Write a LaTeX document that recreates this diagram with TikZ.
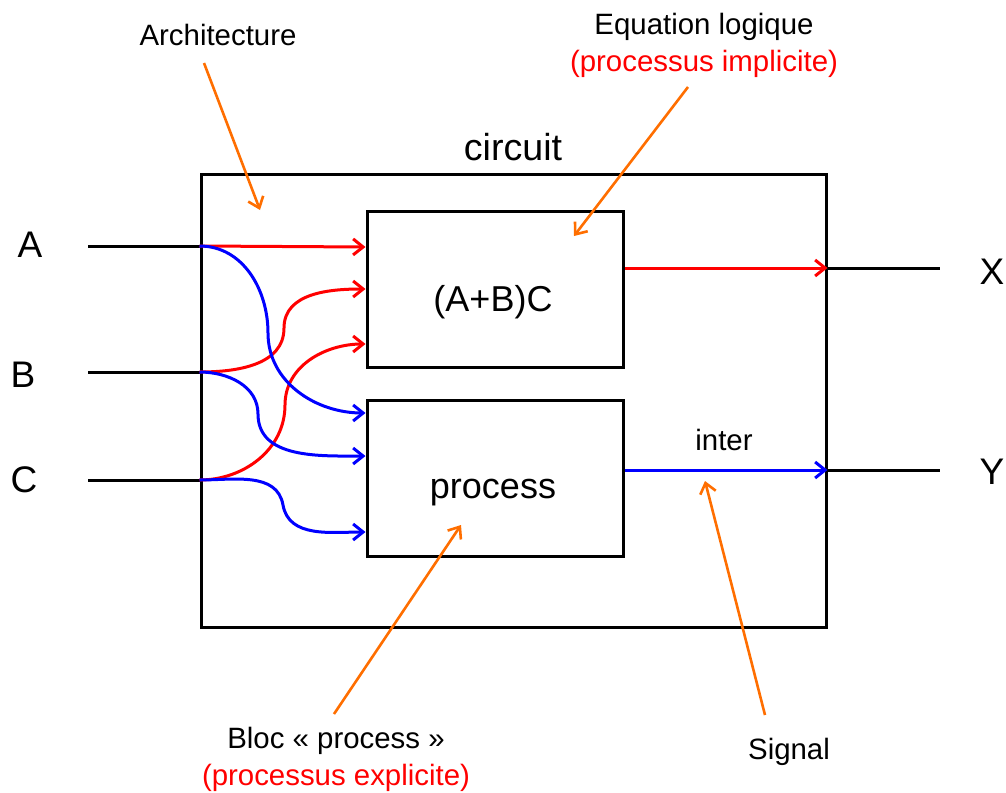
\documentclass[tikz,border=0pt]{standalone}
\usepackage{fontspec}
\setmainfont{Liberation Sans}
\usetikzlibrary{arrows.meta}
\definecolor{annot}{RGB}{255,110,0}
\begin{document}
\begin{tikzpicture}[x=0.5pt, y=-0.5pt,
    bloc/.style={draw, line width=1.5pt, inner sep=0pt,
      minimum width=128pt, minimum height=78pt},
    big/.style={font=\fontsize{18}{21}\selectfont},
    port/.style={font=\fontsize{18.5}{22}\selectfont},
    wire/.style={line width=1.5pt},
    sig/.style={line width=1.5pt, -{Straight Barb[length=5pt,width=8pt]}},
    note/.style={font=\fontsize{14.7}{18.5}\selectfont, align=center},
    pointer/.style={annot, line width=1.3pt, -{Straight Barb[length=5pt,width=8pt]}},
  ]
  \useasboundingbox (0,0) rectangle (1006,792);

  % Circuit and blocks
  \node[draw, line width=1.5pt, inner sep=0pt, minimum width=312.5pt,
    minimum height=226.5pt] (circuit) at (513.5,400.5) {};
  \node[font=\fontsize{18.8}{22}\selectfont] (title) at (513,147) {circuit};
  \node[bloc] (eqn) at (495,289) {};
  \node[big] (eqntxt) at (493,302) {(A+B)C};
  \node[bloc] (proc) at (495,478) {};
  \node[big] (proctxt) at (493,493) {process};

  % Inputs
  \node[port] (A) at (30,245) {A};
  \node[port] (B) at (23,375) {B};
  \node[port] (C) at (24,480) {C};
  \coordinate (inA) at (88,246);
  \coordinate (inB) at (88,372);
  \coordinate (inC) at (88,480);
  \coordinate (pA) at (circuit.west |- inA);
  \coordinate (pB) at (circuit.west |- inB);
  \coordinate (pC) at (circuit.west |- inC);
  \draw[wire] (inA) -- (pA);
  \draw[wire] (inB) -- (pB);
  \draw[wire] (inC) -- (pC);

  % Outputs
  \node[port] (X) at (992,272) {X};
  \node[port] (Y) at (992,472) {Y};
  \coordinate (pX) at (circuit.east |- 0,268);
  \coordinate (pY) at (circuit.east |- 0,470);
  \coordinate (outX) at (940,268);
  \coordinate (outY) at (940,470);
  \draw[wire] (pX) -- (outX);
  \draw[wire] (pY) -- (outY);

  % Block inputs
  \coordinate (e1) at (eqn.west |- 0,247);
  \coordinate (e2) at (eqn.west |- 0,289);
  \coordinate (e3) at (eqn.west |- 0,344);
  \coordinate (q1) at (proc.west |- 0,413);
  \coordinate (q2) at (proc.west |- 0,456);
  \coordinate (q3) at (proc.west |- 0,532);

  % Signals into (A+B)C
  \draw[sig, red] (pA) -- (e1);
  \draw[sig, red] (pB) to[out=0, in=-90] (284,328) to[out=90, in=180] (e2);
  \draw[sig, red] (pC) to[out=0, in=-90] (285,405) to[out=90, in=180] (e3);

  % Signals into process
  \draw[sig, blue] (pA) to[out=0, in=90] (268,333) to[out=-90, in=180] (q1);
  \draw[sig, blue] (pB) to[out=0, in=90] (258,414) to[out=-90, in=180] (q2);
  \draw[sig, blue] (pC) to[out=0, in=100] (283,505) to[out=-80, in=180] (q3);

  % Outputs of the blocks
  \draw[sig, red] (eqn.east |- pX) -- (pX);
  \draw[sig, blue] (proc.east |- pY) -- (pY);
  \node[note] (inter) at (724,440) {inter};

  % Annotations
  \node[note] (arch) at (218,35) {Architecture};
  \node[note] (eqnote) at (704,45) {Equation logique\\\textcolor{red}{(processus implicite)}};
  \node[note] (procnote) at (336,759) {Bloc « process »\\\textcolor{red}{(processus explicite)}};
  \node[note] (signote) at (789,752) {Signal};
  \coordinate (archtail) at (204,63);
  \coordinate (eqtail) at (688,87);
  \coordinate (proctail) at (334,714);
  \coordinate (sigtail) at (765,715);
  \coordinate (archhead) at (260,210);
  \coordinate (eqhead) at (574,236);
  \coordinate (prochead) at (461,525);
  \coordinate (sighead) at (705,481);
  \draw[pointer] (archtail) -- (archhead);
  \draw[pointer] (eqtail) -- (eqhead);
  \draw[pointer] (proctail) -- (prochead);
  \draw[pointer] (sigtail) -- (sighead);
\end{tikzpicture}
\end{document}
